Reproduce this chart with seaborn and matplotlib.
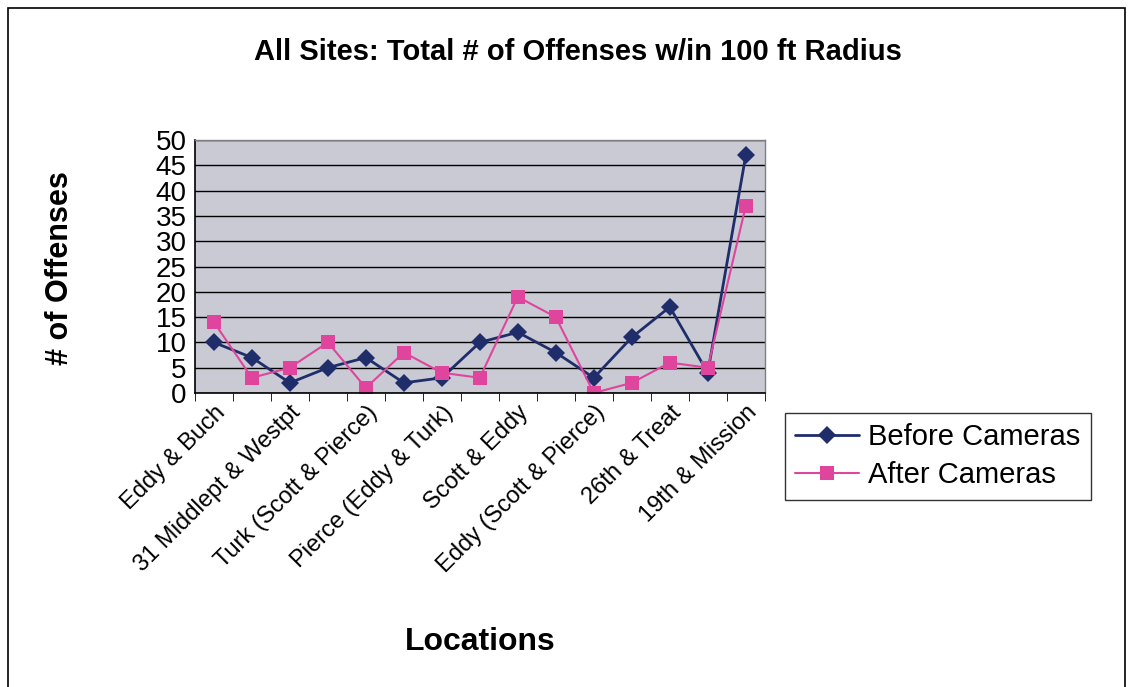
import numpy as np
import pandas as pd
import matplotlib
matplotlib.use("Agg")
import matplotlib.pyplot as plt
import seaborn as sns
from matplotlib.patches import Rectangle

# ----------------------------
# Data
# ----------------------------
shown_labels = ["Eddy & Buch", "31 Middlept & Westpt", "Turk (Scott & Pierce)",
                "Pierce (Eddy & Turk)", "Scott & Eddy", "Eddy (Scott & Pierce)",
                "26th & Treat", "19th & Mission"]
site_index = list(range(1, 16))
before_cameras = [10, 7, 2, 5, 7, 2, 3, 10, 12, 8, 3, 11, 17, 4, 47]
after_cameras = [14, 3, 5, 10, 1, 8, 4, 3, 19, 15, 0, 2, 6, 5, 37]

df = pd.DataFrame({
    "site": site_index * 2,
    "offenses": before_cameras + after_cameras,
    "series": ["Before Cameras"] * 15 + ["After Cameras"] * 15,
})

sns.set_style("white")
plt.rcParams["font.family"] = ["Liberation Sans", "DejaVu Sans"]
plt.rcParams["text.color"] = "black"
plt.rcParams["xtick.color"] = "black"
plt.rcParams["ytick.color"] = "black"

fig = plt.figure(figsize=(11.33, 6.87), dpi=100)
ax = fig.add_axes([0.172, 0.428, 0.503, 0.368])
ax.set_facecolor("#c9cad3")

palette = {"Before Cameras": "#1f2d6b", "After Cameras": "#e0459e"}
sns.lineplot(data=df, x="site", y="offenses", hue="series", style="series",
             markers={"Before Cameras": "D", "After Cameras": "s"},
             dashes=False, palette=palette, ax=ax, linewidth=2,
             markersize=9, markeredgewidth=0)
# thinner pink line
for line in ax.get_lines():
    if line.get_color() == "#e0459e":
        line.set_linewidth(1.5)
        line.set_markersize(10)

ax.set_xlim(0.5, 15.5)
ax.set_ylim(0, 50)
ax.set_yticks(np.arange(0, 51, 5))
ax.tick_params(axis="y", labelsize=20, length=4, direction="out", pad=2)
ax.yaxis.grid(True, color="black", linewidth=1)
ax.set_axisbelow(True)

ax.set_xticks(site_index[::2])
ax.set_xticklabels(shown_labels, rotation=45, ha="right",
                   rotation_mode="anchor", fontsize=17)
ax.set_xticks(np.arange(0.5, 16, 1), minor=True)
ax.tick_params(axis="x", which="major", length=0, pad=6)
ax.tick_params(axis="x", which="minor", length=6, direction="out",
               color="black", bottom=True)

for s in ["left", "bottom"]:
    ax.spines[s].set_color("black")
    ax.spines[s].set_linewidth(1.2)
for s in ["top", "right"]:
    ax.spines[s].set_color("#808080")
    ax.spines[s].set_linewidth(1)

ax.set_xlabel("")
ax.set_ylabel("")
fig.text(0.51, 0.924, "All Sites: Total # of Offenses w/in 100 ft Radius",
         ha="center", va="center", fontsize=21, fontweight="bold")
fig.text(0.053, 0.61, "# of Offenses", rotation=90, ha="center", va="center",
         fontsize=22, fontweight="bold")
fig.text(0.424, 0.066, "Locations", ha="center", va="center",
         fontsize=23, fontweight="bold")

ax.legend(loc="upper left", bbox_to_anchor=(0.68, 0.42),
          bbox_transform=fig.transFigure, fontsize=21, frameon=True,
          fancybox=False, edgecolor="black", handlelength=2.2,
          borderpad=0.35, labelspacing=0.35, handletextpad=0.3)
ax.get_legend().get_frame().set_linewidth(1)

# outer chart border
fig.patches.append(Rectangle((0.007, -0.01), 0.986, 0.998, transform=fig.transFigure,
                             fill=False, edgecolor="black", linewidth=1.2))

fig.savefig("out.png", dpi=100)
